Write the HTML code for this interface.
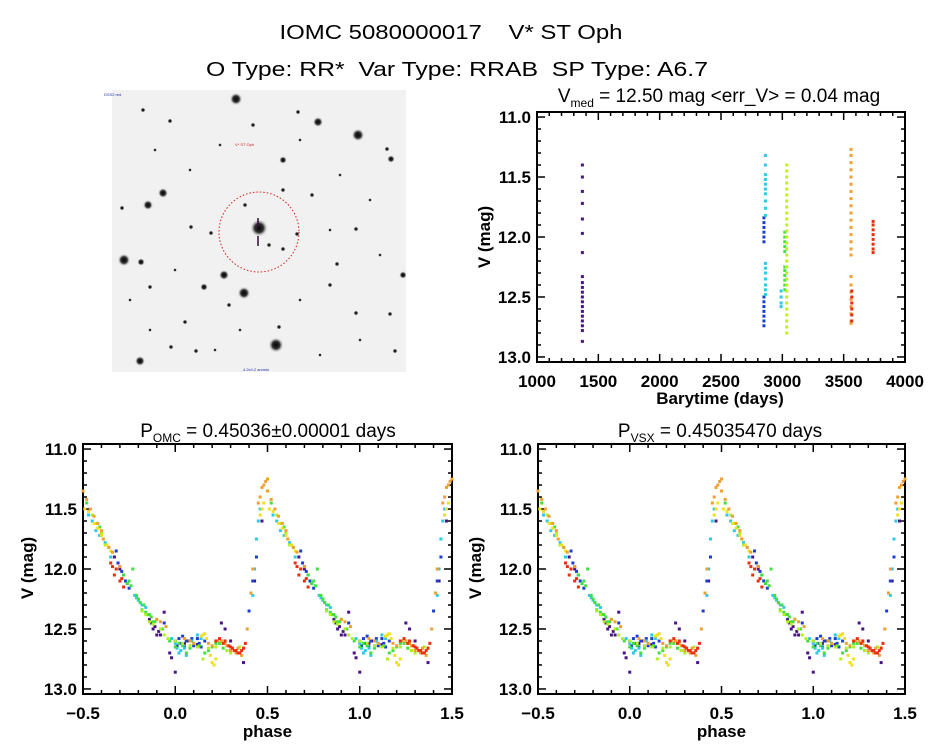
<!DOCTYPE html>
<html><head><meta charset="utf-8"><style>
html,body{margin:0;padding:0;background:#fff;}
svg{display:block;font-family:"Liberation Sans",sans-serif;}
</style></head><body>
<svg id="root" width="944" height="747" viewBox="0 0 944 747" xmlns="http://www.w3.org/2000/svg">
<rect width="944" height="747" fill="#fff"/>
<text x="451" y="39" font-size="20" text-anchor="middle" textLength="343" lengthAdjust="spacingAndGlyphs" xml:space="preserve">IOMC 5080000017    V* ST Oph</text>
<text x="457" y="76" font-size="20" text-anchor="middle" textLength="502" lengthAdjust="spacingAndGlyphs" xml:space="preserve">O Type: RR*  Var Type: RRAB  SP Type: A6.7</text>
<g id="img"></g>
<g id="p1"></g>
<g id="p2"></g>
<g id="p3"></g>
</svg>
<script>
// ---- data: time series (groups of time, colour, magnitudes) ----
const tsTimes = [1370, 2850, 2862, 2990, 3020, 3036, 3560, 3566, 3740];
const tsColors = ["#4a1486","#1c3fd0","#30c8e8","#30c8e8","#40e040","#c0f020","#f0a030","#e83010","#e83010"];
const tsMags = [
 [11.4,11.5,11.62,11.72,11.85,11.97,12.13,12.33,12.38,12.42,12.46,12.5,12.54,12.58,12.62,12.66,12.7,12.74,12.78,12.87],
 [11.84,11.88,11.92,11.96,12.0,12.04,12.5,12.54,12.58,12.62,12.66,12.7,12.74],
 [11.32,11.4,11.48,11.52,11.56,11.6,11.64,11.7,11.76,11.82,12.22,12.26,12.3,12.35,12.4,12.44,12.48],
 [12.45,12.5,12.55,12.58],
 [11.96,12.0,12.04,12.08,12.12,12.25,12.28,12.32,12.36,12.4,12.44],
 [11.4,11.45,11.5,11.55,11.6,11.65,11.7,11.75,11.8,11.85,11.9,11.95,12.0,12.05,12.1,12.15,12.2,12.25,12.3,12.35,12.4,12.45,12.5,12.55,12.6,12.65,12.7,12.75,12.8],
 [11.27,11.32,11.38,11.44,11.5,11.56,11.62,11.68,11.74,11.8,11.86,11.92,11.98,12.04,12.1,12.15,12.33,12.4,12.46,12.52,12.58,12.64,12.7,12.72],
 [12.45,12.5,12.55,12.6,12.65,12.7],
 [11.87,11.9,11.94,11.98,12.02,12.06,12.1,12.13]
];
// ---- data: phased points per colour group ----
const phColors = ["#4a1486","#1c3fd0","#30c8e8","#40e040","#b0f020","#f0e020","#f0a030","#e83010"];
const phPhase = [
 [-0.33,-0.3,-0.14,-0.12,-0.1,-0.06,-0.03,0.0,0.05,0.25,0.27,0.37,0.43,0.47,-0.11,-0.08,-0.13,-0.09,-0.02,0.07,0.12,0.3],
 [-0.32,-0.31,-0.29,-0.27,-0.25,-0.06,0.0,0.02,0.05,0.08,0.12,0.14,0.16,0.4,0.44,0.03,0.1,-0.3,-0.28,-0.26,0.01,0.04,0.06,0.09,0.13,0.42],
 [-0.47,-0.43,-0.38,-0.22,-0.19,-0.16,-0.02,0.03,0.06,0.1,0.12,0.42,0.44,0.45,0.46,-0.35,0.01,0.08,-0.45,-0.41,-0.36,-0.21,-0.2,-0.18,0.0,0.02,0.05,0.09,0.14,0.43],
 [-0.48,-0.41,-0.28,-0.25,-0.23,-0.2,-0.17,-0.15,-0.13,-0.1,0.0,0.06,0.1,0.16,0.2,0.28,-0.26,-0.18,-0.12,0.04,0.24,-0.19,-0.16,-0.14,-0.11,-0.07,-0.03,0.02,0.08,0.13,0.18,0.22,0.26,-0.24,-0.21],
 [-0.45,-0.4,-0.18,-0.08,-0.04,0.04,0.12,0.15,0.22,0.3,0.35,-0.38,-0.14,0.26,-0.16,-0.12,-0.06,0.0,0.08,0.18,0.28,0.33,-0.43],
 [-0.49,-0.44,-0.4,-0.37,-0.35,0.15,0.17,0.2,0.21,0.22,0.48,0.46,-0.42,-0.47,-0.39,0.14,0.16,0.19,0.47],
 [-0.5,-0.46,-0.42,-0.36,-0.3,-0.1,-0.05,0.08,0.18,0.25,0.3,0.33,0.36,0.39,0.42,0.45,0.47,0.49,0.48,-0.39,0.28,0.34,-0.48,-0.44,-0.4,-0.34,-0.08,0.1,0.2,0.23,0.27,0.32,0.35,0.37,0.41,0.46,0.5,0.05],
 [-0.35,-0.33,-0.3,-0.28,0.24,0.27,0.3,0.32,0.34,0.36,0.38,-0.32,0.31,-0.34,-0.29,0.22,0.26,0.29,0.33,0.35,0.37]
];
const phMags = [
 [11.9,12.0,12.42,12.5,12.55,12.36,12.7,12.86,12.62,12.45,12.5,12.78,12.1,11.6,12.48,12.55,12.45,12.52,12.74,12.6,12.63,12.6],
 [11.85,11.95,12.02,12.1,12.16,12.45,12.6,12.58,12.65,12.6,12.58,12.65,12.6,12.35,11.9,12.62,12.64,11.98,12.05,12.12,12.64,12.56,12.6,12.58,12.62,12.1],
 [11.55,11.68,11.78,12.22,12.28,12.32,12.58,12.68,12.72,12.62,12.55,12.22,11.75,11.6,11.5,11.9,12.66,12.64,11.6,11.72,11.82,12.24,12.26,12.3,12.62,12.7,12.66,12.6,12.58,12.0],
 [11.45,11.65,12.05,12.1,12.0,12.25,12.3,12.38,12.4,12.42,12.65,12.7,12.62,12.7,12.65,12.68,12.12,12.34,12.44,12.64,12.62,12.28,12.36,12.38,12.44,12.5,12.6,12.62,12.66,12.64,12.68,12.62,12.66,12.14,12.22],
 [11.55,11.7,12.35,12.5,12.58,12.62,12.65,12.75,12.65,12.7,12.65,11.8,12.44,12.62,12.38,12.46,12.55,12.6,12.64,12.66,12.68,12.7,11.62],
 [11.5,11.62,11.72,11.8,11.85,12.55,12.58,12.78,12.8,12.75,11.45,11.55,11.66,11.52,11.75,12.56,12.54,12.72,11.5],
 [11.35,11.5,11.62,11.82,11.98,12.42,12.48,12.6,12.62,12.6,12.68,12.7,12.72,12.5,12.0,11.45,11.32,11.27,11.3,11.75,12.64,12.66,11.42,11.56,11.68,11.86,12.44,12.62,12.64,12.6,12.62,12.68,12.7,12.66,12.2,11.4,11.25,12.58],
 [11.95,12.05,12.1,12.15,12.58,12.6,12.65,12.68,12.7,12.68,12.62,12.0,12.66,11.98,12.08,12.6,12.62,12.64,12.68,12.7,12.66]
];
const yTicks = [11.0, 11.5, 12.0, 12.5, 13.0];
const yTickLabels = ["11.0","11.5","12.0","12.5","13.0"];
const tTicks = [1000,1500,2000,2500,3000,3500,4000];
const tTickLabels = ["1000","1500","2000","2500","3000","3500","4000"];
const pTicks = [-0.5,0,0.5,1.0,1.5];
const pTickLabels = ["\u22120.5","0.0","0.5","1.0","1.5"];

const NS="http://www.w3.org/2000/svg";
function mk(tag, attrs, parent){const e=document.createElementNS(NS,tag);for(const k in attrs)e.setAttribute(k,attrs[k]);parent.appendChild(e);return e;}

// ---- sky image ----
const img=document.getElementById('img');
const defs=mk('defs',{},img);
const rg=mk('radialGradient',{id:'star'},defs);
mk('stop',{offset:'0','stop-color':'#000'},rg);
mk('stop',{offset:'0.5','stop-color':'#333'},rg);
mk('stop',{offset:'1','stop-color':'#eee','stop-opacity':'0'},rg);
mk('rect',{x:112,y:90,width:294,height:282,fill:'#f1f1f1'},img);
const stars=[[236,99,5],[318,122,4],[358,135,5],[391,159,3],[283,160,3],[163,193,4],[148,205,4],[124,260,5],[141,262,3],[224,275,4],[244,293,5],[204,287,3],[276,345,6],[140,361,4],[259,228,7],[211,233,2],[191,227,2],[253,125,2],[298,112,2],[387,149,2],[297,234,2],[283,190,2],[330,285,2],[337,264,2],[356,313,2],[390,314,2],[403,275,3],[395,351,2],[171,347,2],[196,351,2],[279,327,2],[229,305,2],[150,287,2],[185,322,2],[122,208,2],[245,205,2],[312,195,2],[356,229,2],[143,110,2],[170,121,2],[269,245,2],[283,249,2],[155,150,1.5],[190,170,1.5],[220,145,1.5],[300,140,1.5],[340,175,1.5],[370,200,1.5],[150,330,1.5],[215,350,1.5],[320,355,1.5],[360,340,1.5],[240,330,1.5],[300,300,1.5],[380,255,1.5],[130,300,1.5],[175,270,1.5],[330,230,1.5]];
stars.forEach(s=>{const c=mk('circle',{cx:s[0],cy:s[1],r:s[2]*1.3,fill:'url(#star)'},img);

});
const circ=mk('circle',{cx:259,cy:232,r:40,fill:'none',stroke:'#d02020','stroke-width':1,'stroke-dasharray':'1.5,2'},img);


mk('line',{x1:258,y1:218,x2:258,y2:228,stroke:'#301030','stroke-width':1.5},img);
mk('line',{x1:258,y1:236,x2:258,y2:246,stroke:'#301030','stroke-width':1.5},img);
mk('text',{x:235,y:146,'font-size':4,fill:'#d02020'},img).textContent='V* ST Oph';
mk('text',{x:104,y:96,'font-size':4,fill:'#2030a0'},img).textContent='DSS2 red';
mk('text',{x:243,y:371,'font-size':4,fill:'#2030a0'},img).textContent='4.2x4.2 arcmin';

// ---- generic axis drawing ----
function makeAxes(g, box, xmin, xmax, ymin, ymax, xt, xtl, xminor, yminor){
  const X=v=>box.x0+(v-xmin)/(xmax-xmin)*(box.x1-box.x0);
  const Y=v=>box.y0+(v-ymin)/(ymax-ymin)*(box.y1-box.y0);
  const fr=mk('rect',{x:box.x0,y:box.y0,width:box.x1-box.x0,height:box.y1-box.y0,fill:'none',stroke:'#000','stroke-width':2},g);
  
  
  for(let v=xt[0]; v<=xt[xt.length-1]+1e-9; v+=xminor){
    const major=xt.some(t=>Math.abs(t-v)<1e-6); const L=major?8:4;
    mk('line',{x1:X(v),y1:box.y1,x2:X(v),y2:box.y1-L,stroke:'#000','stroke-width':1.5},g);
    mk('line',{x1:X(v),y1:box.y0,x2:X(v),y2:box.y0+L,stroke:'#000','stroke-width':1.5},g);
  }
  for(let v=11.0; v<=13.0+1e-9; v+=yminor){
    const major=yTicks.some(t=>Math.abs(t-v)<1e-6); const L=major?8:4;
    mk('line',{x1:box.x0,y1:Y(v),x2:box.x0+L,y2:Y(v),stroke:'#000','stroke-width':1.5},g);
    mk('line',{x1:box.x1,y1:Y(v),x2:box.x1-L,y2:Y(v),stroke:'#000','stroke-width':1.5},g);
  }
  xt.forEach((v,i)=>{const t=mk('text',{x:X(v),y:box.y1+25,'font-size':17,'font-weight':'bold','text-anchor':'middle'},g);t.textContent=xtl[i];
    
    });
  yTicks.forEach((v,i)=>{const t=mk('text',{x:box.x0-6,y:Y(v)+6,'font-size':17,'font-weight':'bold','text-anchor':'end'},g);t.textContent=yTickLabels[i];
    
    });
  return {X,Y};
}
function dot(g,x,y,c,name){const r=mk('rect',{x:x-1.5,y:y-1.5,width:3,height:3,fill:c},g);
  
  }
function yTitle(g,x,y){const t=mk('text',{x:x,y:y,'font-size':17,'font-weight':'bold','text-anchor':'middle',transform:`rotate(-90 ${x} ${y})`},g);t.textContent='V (mag)';
  
  }
const YMIN=10.958, YMAX=13.042;

// ---- panel 1: time series ----
const p1=document.getElementById('p1');
const a1=makeAxes(p1,{x0:537,x1:905,y0:112,y1:362},1000,4000,YMIN,YMAX,tTicks,tTickLabels,100,0.1);
tsTimes.forEach((t,i)=>tsMags[i].forEach(m=>dot(p1,a1.X(t),a1.Y(m),tsColors[i],'time-point')));
yTitle(p1,490,237);
let tt=mk('text',{x:720,y:404,'font-size':17,'font-weight':'bold','text-anchor':'middle'},p1);tt.textContent='Barytime (days)';


tt=mk('text',{x:719,y:102,'font-size':19,'text-anchor':'middle'},p1);
tt.innerHTML='V<tspan font-size="12" dy="5">med</tspan><tspan dy="-5"> = 12.50 mag &lt;err_V&gt; = 0.04 mag</tspan>';



// ---- phase panels ----
function phasePanel(id,x0,x1,yx,title,sub,rest,cx){
  const g=document.getElementById(id);
  const a=makeAxes(g,{x0:x0,x1:x1,y0:444,y1:694},-0.5,1.5,YMIN,YMAX,pTicks,pTickLabels,0.1,0.1);
  phPhase.forEach((arr,i)=>arr.forEach((p,j)=>{
    dot(g,a.X(p),a.Y(phMags[i][j]),phColors[i],'phase-point');
    if(p+1<=1.5) dot(g,a.X(p+1),a.Y(phMags[i][j]),phColors[i],'phase-point');
  }));
  yTitle(g,yx,568);
  let t=mk('text',{x:(x0+x1)/2,y:737,'font-size':17,'font-weight':'bold','text-anchor':'middle'},g);t.textContent='phase';
  
  
  t=mk('text',{x:cx,y:437,'font-size':19,'text-anchor':'middle'},g);
  t.innerHTML='P<tspan font-size="12" dy="5">'+sub+'</tspan><tspan dy="-5">'+rest+'</tspan>';
  
  
}
phasePanel('p2',83,452,33,'P','OMC',' = 0.45036\u00b10.00001 days',268);
phasePanel('p3',538,905,481,'P','VSX',' = 0.45035470 days',720);
</script>
</body></html>
